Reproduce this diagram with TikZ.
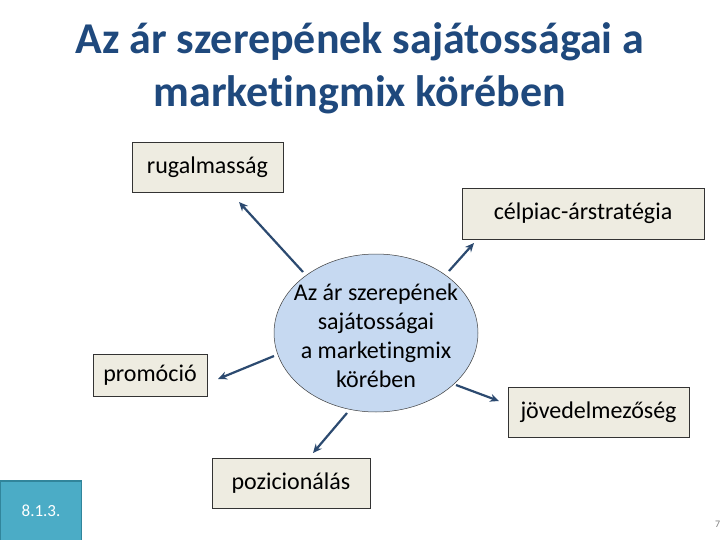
\documentclass[tikz,border=0pt]{standalone}
\usepackage{fontspec}
\setmainfont[Ligatures=NoCommon]{Carlito}
\usetikzlibrary{shapes.geometric,arrows.meta}
\definecolor{titleblue}{RGB}{31,73,125}
\definecolor{boxfill}{RGB}{238,236,225}
\definecolor{ellfill}{RGB}{198,217,241}
\definecolor{arrowblue}{RGB}{44,74,112}
\definecolor{tealfill}{RGB}{75,172,198}
\definecolor{tealdraw}{RGB}{49,133,155}
\tikzset{
  mbox/.style={draw=black!80, line width=0.8pt, fill=boxfill, inner sep=0pt, font=\fontsize{24}{28}\selectfont},
  arr/.style={draw=arrowblue, line width=2.2pt, -{Stealth[length=9pt,width=8pt]}},
}
\begin{document}
\begin{tikzpicture}[x=1pt,y=-1pt]
\useasboundingbox (0,0) rectangle (720,540);
\fill[white] (0,0) rectangle (720,540);
% title
\node[font=\fontsize{44}{53}\selectfont\bfseries, text=titleblue, align=center] (title) at (360,68)
  {Az ár szerepének sajátosságai a\\marketingmix körében};
% ellipse
\node[ellipse, draw=black!75, line width=0.5pt, fill=ellfill, minimum width=204pt, minimum height=158pt, inner sep=0pt] (ell) at (376,333) {};
\node[font=\fontsize{24}{29}\selectfont, align=center] (elltext) at (376,336)
  {Az ár szerepének\\sajátosságai\\a marketingmix\\körében};
% boxes
\node[mbox, minimum width=151pt, minimum height=50pt] (rug) at (207.5,167) {rugalmasság};
\node[mbox, minimum width=242pt, minimum height=51pt] (cel) at (583,213.5) {célpiac-árstratégia};
\node[mbox, minimum width=114pt, minimum height=42pt] (pro) at (150,375) {promóció};
\node[mbox, minimum width=181pt, minimum height=50pt] (jov) at (598.5,412) {jövedelmezőség};
\node[mbox, minimum width=158pt, minimum height=50pt] (poz) at (291,483) {pozicionálás};
% section box
\node[draw=tealdraw, line width=1.5pt, fill=tealfill, minimum width=81pt, minimum height=60pt, inner sep=0pt, text=white, font=\fontsize{17}{20}\selectfont] (sec) at (41,511) {8.1.3.};
% page number (cut)
\node[anchor=west, text=black!50, font=\fontsize{10}{12}\selectfont, inner sep=0pt] (pg) at (715,524) {7};
% arrow coordinates
\coordinate (s1) at (303,272); \coordinate (e1) at (239,202);
\coordinate (s2) at (449,271); \coordinate (e2) at (474,243);
\coordinate (s3) at (274,356); \coordinate (e3) at (218,379);
\coordinate (s4) at (456,385); \coordinate (e4) at (499,401);
\coordinate (s5) at (347,413); \coordinate (e5) at (313,453);
\draw[arr] (s1) -- (e1);
\draw[arr] (s2) -- (e2);
\draw[arr] (s3) -- (e3);
\draw[arr] (s4) -- (e4);
\draw[arr] (s5) -- (e5);
\end{tikzpicture}
\end{document}
